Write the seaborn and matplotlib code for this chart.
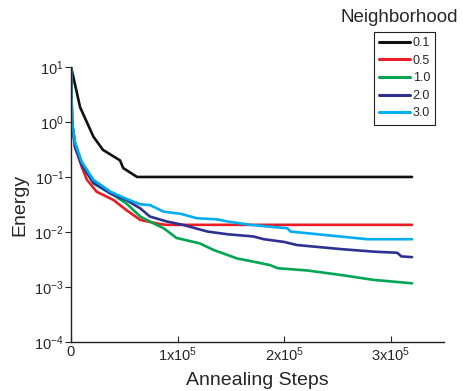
import pandas as pd
import matplotlib
matplotlib.use("Agg")
import matplotlib.pyplot as plt
import seaborn as sns

# Values (annealing steps vs energy)
labels = ["0.1", "0.5", "1.0", "2.0", "3.0"]
colors = ["#111111", "#ed1c24", "#00a651", "#2e3192", "#00aeef"]

steps_01 = [0, 3e3, 8.5e3, 2.1e4, 3.0e4, 4.6e4, 4.9e4, 6.2e4, 3.2e5]
energy_01 = [10, 5.6, 1.86, 0.54, 0.31, 0.20, 0.145, 0.10, 0.10]

steps_05 = [0, 1e3, 3.8e3, 1.0e4, 1.5e4, 2.4e4, 4.0e4, 5.2e4, 6.5e4, 7.2e4, 8.5e4,
            9.0e4, 3.2e5]
energy_05 = [10, 1.0, 0.35, 0.155, 0.089, 0.054, 0.038, 0.025, 0.0166, 0.0155, 0.0138,
             0.0135, 0.0135]

steps_10 = [0, 1e3, 3.8e3, 1.0e4, 2.1e4, 3.7e4, 5.2e4, 6.5e4, 7.7e4, 8.7e4, 9.9e4,
            1.21e5, 1.34e5, 1.56e5, 1.71e5, 1.87e5, 1.94e5, 2.22e5, 2.53e5, 2.84e5, 3.2e5]
energy_10 = [10, 1.0, 0.42, 0.178, 0.076, 0.051, 0.033, 0.0191, 0.0145, 0.0117, 0.0078,
             0.0062, 0.0047, 0.0033, 0.0029, 0.0025, 0.0022, 0.0020, 0.00166, 0.00135,
             0.00117]

steps_20 = [0, 1e3, 3.8e3, 1.0e4, 2.1e4, 3.7e4, 5.2e4, 6.5e4, 7.4e4, 9.0e4, 1.05e5,
            1.28e5, 1.47e5, 1.71e5, 1.81e5, 2.0e5, 2.12e5, 2.53e5, 2.84e5, 3.06e5,
            3.1e5, 3.2e5]
energy_20 = [10, 1.0, 0.35, 0.166, 0.079, 0.050, 0.038, 0.0269, 0.0191, 0.0155, 0.0135,
             0.0102, 0.0091, 0.0083, 0.0074, 0.0066, 0.0058, 0.0049, 0.0044, 0.0042,
             0.0036, 0.0035]

steps_30 = [0, 1e3, 3.8e3, 1.0e4, 2.1e4, 3.7e4, 5.2e4, 6.5e4, 7.4e4, 8.7e4, 1.03e5,
            1.18e5, 1.37e5, 1.47e5, 1.68e5, 2.03e5, 2.06e5, 2.47e5, 2.78e5, 3.2e5]
energy_30 = [10, 1.0, 0.42, 0.19, 0.089, 0.054, 0.040, 0.0319, 0.0309, 0.0234, 0.0214,
             0.0178, 0.0170, 0.0155, 0.0135, 0.0117, 0.0102, 0.0085, 0.0074, 0.0074]

x_ticks = [0, 1e5, 2e5, 3e5]
x_tick_labels = ["0", r"$\mathdefault{1x10^{5}}$", r"$\mathdefault{2x10^{5}}$",
                 r"$\mathdefault{3x10^{5}}$"]
y_ticks = [1e-4, 1e-3, 1e-2, 1e-1, 1e0, 1e1]
y_tick_labels = [r"$\mathdefault{10^{-4}}$", r"$\mathdefault{10^{-3}}$",
                 r"$\mathdefault{10^{-2}}$", r"$\mathdefault{10^{-1}}$",
                 r"$\mathdefault{10^{0}}$", r"$\mathdefault{10^{1}}$"]

# Long-form table for seaborn
all_steps = [steps_01, steps_05, steps_10, steps_20, steps_30]
all_energy = [energy_01, energy_05, energy_10, energy_20, energy_30]
frames = []
for lab, s, e in zip(labels, all_steps, all_energy):
    frames.append(pd.DataFrame({"steps": s, "energy": e, "Neighborhood": lab}))
df = pd.concat(frames, ignore_index=True)

sns.set_style("ticks")
plt.rcParams["font.family"] = ["Liberation Sans", "DejaVu Sans"]
plt.rcParams["mathtext.fontset"] = "custom"
plt.rcParams["mathtext.rm"] = "Liberation Sans"

fig = plt.figure(figsize=(4.64, 3.91), dpi=100)
ax = fig.add_axes([0.153, 0.125, 0.804, 0.704])

sns.lineplot(data=df, x="steps", y="energy", hue="Neighborhood",
             palette=dict(zip(labels, colors)), hue_order=labels,
             linewidth=1.9, estimator=None, sort=False, ax=ax)

ax.set_yscale("log")
ax.set_xlim(0, 3.5e5)
ax.set_ylim(1e-4, 1e1)
ax.set_xticks(x_ticks)
ax.set_xticklabels(x_tick_labels, fontsize=10.5)
ax.set_yticks(y_ticks)
ax.set_yticklabels(y_tick_labels, fontsize=10.5)
ax.minorticks_off()
ax.tick_params(axis="x", direction="in", length=4, pad=2)
ax.tick_params(axis="y", direction="out", length=4, pad=1)
ax.set_xlabel("Annealing Steps", fontsize=14, labelpad=6)
ax.set_ylabel("Energy", fontsize=14, labelpad=4)
sns.despine(ax=ax)
for sp in ["left", "bottom"]:
    ax.spines[sp].set_linewidth(1.0)
    ax.spines[sp].set_color("#222222")

leg = ax.legend(loc="upper left", bbox_to_anchor=(374 / 464, 1 - 32 / 391),
                bbox_transform=fig.transFigure, fontsize=9,
                frameon=True, fancybox=False, handlelength=2.5,
                handletextpad=0.2, labelspacing=0.45, borderpad=0.4,
                borderaxespad=0)
leg.get_frame().set_edgecolor("#222222")
leg.get_frame().set_linewidth(0.8)
leg.get_frame().set_alpha(1)
for line in leg.get_lines():
    line.set_linewidth(2.2)
fig.text(399 / 464, 1 - 18 / 391, "Neighborhood", ha="center", va="center", fontsize=13.5)

fig.savefig("out.png", dpi=100)
